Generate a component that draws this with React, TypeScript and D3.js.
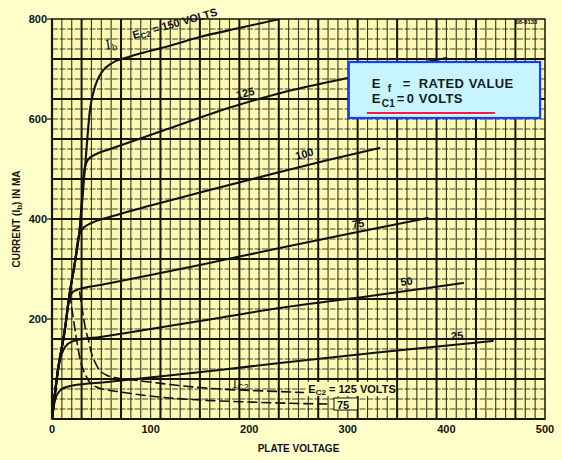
import * as d3 from 'd3';

// plate characteristic, Ec1 = 0
const xTicks = [0, 100, 200, 300, 400, 500];
const yTicks = [200, 400, 600, 800];

const v150 = [0, 6, 13, 18, 23, 28, 33.5, 38.5, 43.6, 50.7, 61, 74, 91, 115, 150, 190, 231];
const i150 = [0, 98, 178, 252, 310, 378, 504, 618, 665, 694, 712, 722, 732, 744, 764, 782, 800];

const v125 = [0, 6, 13, 18, 23, 28, 33, 37, 45, 59, 117, 184, 232, 300, 400];
const i125 = [0, 98, 178, 252, 310, 378, 500, 520, 530, 540, 580, 625, 652, 682, 722];

const v100 = [0, 6, 13, 18, 23, 27, 31, 40, 60, 100, 150, 231, 280, 332];
const i100 = [0, 98, 178, 252, 310, 365, 380, 392, 405, 427, 453, 494, 518, 542];

const v75 = [0, 6, 13, 17, 20, 25, 49, 100, 150, 231, 300, 381];
const i75 = [0, 98, 178, 238, 252, 258, 268, 288, 308, 342, 370, 402];

const v50 = [0, 3, 6, 9, 12, 16, 25, 49, 100, 150, 231, 330, 417];
const i50 = [0, 50, 95, 125, 140, 150, 158, 164, 180, 196, 222, 248, 272];

const v25 = [0, 2, 4, 7, 10, 15, 21, 56, 99, 170, 231, 330, 447];
const i25 = [0, 28, 44, 54, 60, 64, 67, 74, 83, 98, 112, 133, 156];

// screen current Ic2 (dashed)
const vIc125 = [28, 31, 34, 37, 40, 44, 49, 55, 66, 82, 99, 133, 170, 230, 255];
const iIc125 = [254, 215, 180, 158, 132, 112, 96, 88, 82, 78, 74, 66, 60, 55, 53];

const vIc75 = [18, 21, 24, 27, 30, 34, 38, 45, 56, 70, 99, 150, 200, 250, 280];
const iIc75 = [250, 210, 170, 135, 108, 88, 74, 64, 58, 54, 46, 38, 34, 31, 30];

const solidCurves = [
  { v: v150, i: i150 },
  { v: v125, i: i125 },
  { v: v100, i: i100 },
  { v: v75, i: i75 },
  { v: v50, i: i50 },
  { v: v25, i: i25 },
];
const dashedCurves = [
  { v: vIc125, i: iIc125 },
  { v: vIc75, i: iIc75 },
];

const curveLabels = [
  { text: '125', v: 188, i: 640, rot: -14 },
  { text: '100', v: 248, i: 518, rot: -15 },
  { text: '75', v: 305, i: 381, rot: -10 },
  { text: '50', v: 354, i: 266, rot: -8 },
  { text: '25', v: 405, i: 158, rot: -5 },
];

const W = 562;
const H = 460;
const font = "'Liberation Sans', Arial, sans-serif";
const ink = '#161608';

export default function App() {
  const x = d3.scaleLinear().domain([0, 500]).range([52, 545]);
  const y = d3.scaleLinear().domain([0, 800]).range([419, 19]);

  const line = d3.line<[number, number]>()
    .curve(d3.curveMonotoneX)
    .x(d => x(d[0]))
    .y(d => y(d[1]));
  const pts = (c: { v: number[]; i: number[] }) => c.v.map((v, k) => [v, c.i[k]] as [number, number]);

  const vGrid = d3.range(10, 500, 10);
  const hGrid = d3.range(20, 800, 20);

  const at = (v: number, i: number, rot = 0) => `translate(${x(v)},${y(i)}) rotate(${rot})`;

  // legend box
  const lx = x(301);
  const ly = y(714);
  const lw = x(495) - lx;
  const lh = y(602) - ly;

  return (
    <div style={{ position: 'absolute', left: 0, top: 0 }}>
      <svg width={W} height={H} viewBox={`0 0 ${W} ${H}`} style={{ display: 'block' }}>
        <defs>
          <clipPath id="plot">
            <rect x={x(0)} y={y(800)} width={x(500) - x(0)} height={y(0) - y(800)} />
          </clipPath>
        </defs>
        <rect width={W} height={H} fill="#ffffca" />
        <rect x={x(0)} y={y(800)} width={x(500) - x(0)} height={y(0) - y(800)} fill="#fbf9b4" />

        {/* graph paper */}
        <g stroke={ink}>
          {hGrid.map(d => (
            <line key={'h' + d} x1={x(0)} x2={x(500)} y1={y(d)} y2={y(d)}
              strokeWidth={d % 80 === 0 ? 1.8 : 1}
              strokeDasharray={d % 80 === 0 ? undefined : '6,1.5'}
              strokeOpacity={d % 80 === 0 ? 1 : 0.8} />
          ))}
          {vGrid.map(d => (
            <line key={'v' + d} x1={x(d)} x2={x(d)} y1={y(0)} y2={y(800)}
              strokeWidth={(d - 30) % 40 === 0 ? 2 : 1.1}
              strokeOpacity={(d - 30) % 40 === 0 ? 1 : 0.85} />
          ))}
          <rect x={x(0)} y={y(800)} width={x(500) - x(0)} height={y(0) - y(800)} fill="none" strokeWidth={1.5} />
          <line x1={x(0)} x2={x(0)} y1={y(0)} y2={y(800)} strokeWidth={2.2} />
          <line x1={x(0)} x2={x(500)} y1={y(0)} y2={y(0)} strokeWidth={2} />
          {yTicks.map(t => (
            <line key={'yt' + t} x1={x(0) - 5} x2={x(0)} y1={y(t)} y2={y(t)} strokeWidth={1.2} />
          ))}
        </g>

        {/* curves */}
        <g clipPath="url(#plot)" fill="none" stroke="#111" strokeLinecap="round" strokeLinejoin="round">
          {solidCurves.map((c, k) => (
            <path key={'s' + k} d={line(pts(c)) || ''} strokeWidth={2.1} />
          ))}
          {dashedCurves.map((c, k) => (
            <path key={'d' + k} d={line(pts(c)) || ''} strokeWidth={1.6} strokeDasharray="9,5" />
          ))}
        </g>

        {/* curve labels */}
        <g fontFamily={font} fontWeight="bold" fill="#111" fontSize={10}>
          <text transform={at(56, 738, -20)} fontFamily="'DejaVu Serif', serif" fontSize={13} fontStyle="italic" fontWeight="normal">
            I<tspan fontSize={9} dy={3}>b</tspan>
          </text>
          <text transform={at(83, 760, -15.7)} fontSize={11}>
            E<tspan fontSize={8} dy={2}>C2</tspan><tspan dy={-2}> = 150 VOLTS</tspan>
          </text>
          {curveLabels.map(l => (
            <text key={l.text} transform={at(l.v, l.i, l.rot)} fontSize={11}>{l.text}</text>
          ))}
          <text transform={at(183, 62)} fontFamily="'DejaVu Serif', serif" fontSize={12} fontWeight="normal">
            I<tspan fontSize={9} dy={2} fontFamily={font}>C2</tspan>
          </text>
          <rect x={x(258)} y={y(52) - 11} width={x(348) - x(258)} height={14} fill="#fbf9b4" />
          <text transform={at(260, 52)} fontSize={11}>
            E<tspan fontSize={8} dy={2}>C2</tspan><tspan dy={-2}> = 125 VOLTS</tspan>
          </text>
          <rect x={x(286)} y={y(22) - 10} width={x(310) - x(286)} height={12} fill="#fbf9b4" stroke="#111" strokeWidth={1} />
          <text transform={at(289, 21)} fontSize={11}>75</text>
        </g>

        {/* tiny drawing number */}
        <text x={x(470)} y={y(790)} fontFamily={font} fontSize={6} fontWeight="bold" fill="#111">08-8133</text>

        {/* legend */}
        <g>
          <rect x={lx} y={ly} width={lw} height={lh} fill="#c6f4ff" stroke="#1a3cff" strokeWidth={2.2} />
          <g fontFamily={font} fontWeight="bold" fill="#1a1a1a" fontSize={13} letterSpacing={0.3}>
            <text y={ly + 26}>
              <tspan x={lx + 23}>E</tspan>
              <tspan x={lx + 39} dy={4} fontSize={10}>f</tspan>
              <tspan x={lx + 54} dy={-4}>=</tspan>
              <tspan x={lx + 70}>RATED</tspan>
              <tspan x={lx + 120}>VALUE</tspan>
            </text>
            <text y={ly + 41}>
              <tspan x={lx + 23}>E</tspan>
              <tspan x={lx + 33} dy={4} fontSize={10}>C1</tspan>
              <tspan x={lx + 48} dy={-4}>=</tspan>
              <tspan x={lx + 58}>0</tspan>
              <tspan x={lx + 70}>VOLTS</tspan>
            </text>
          </g>
          <line x1={lx + 18} x2={lx + 146} y1={ly + 51} y2={ly + 51} stroke="#ff1a3c" strokeWidth={2} />
        </g>

        {/* axes text */}
        <g fontFamily={font} fontWeight="bold" fill="#111" fontSize={11}>
          {xTicks.map(t => (
            <text key={'xl' + t} x={x(t)} y={y(0) + 14} textAnchor="middle">{t}</text>
          ))}
          {yTicks.map(t => (
            <text key={'yl' + t} x={x(0) - 5} y={y(t) + 4} textAnchor="end">{t}</text>
          ))}
          <text x={x(250)} y={y(0) + 33} textAnchor="middle" fontSize={10}>PLATE VOLTAGE</text>
          <text transform={`translate(20,${y(400)}) rotate(-90)`} textAnchor="middle" fontSize={10}>
            CURRENT (I<tspan fontSize={8} dy={2}>b</tspan><tspan dy={-2}>) IN MA</tspan>
          </text>
        </g>
      </svg>
    </div>
  );
}
